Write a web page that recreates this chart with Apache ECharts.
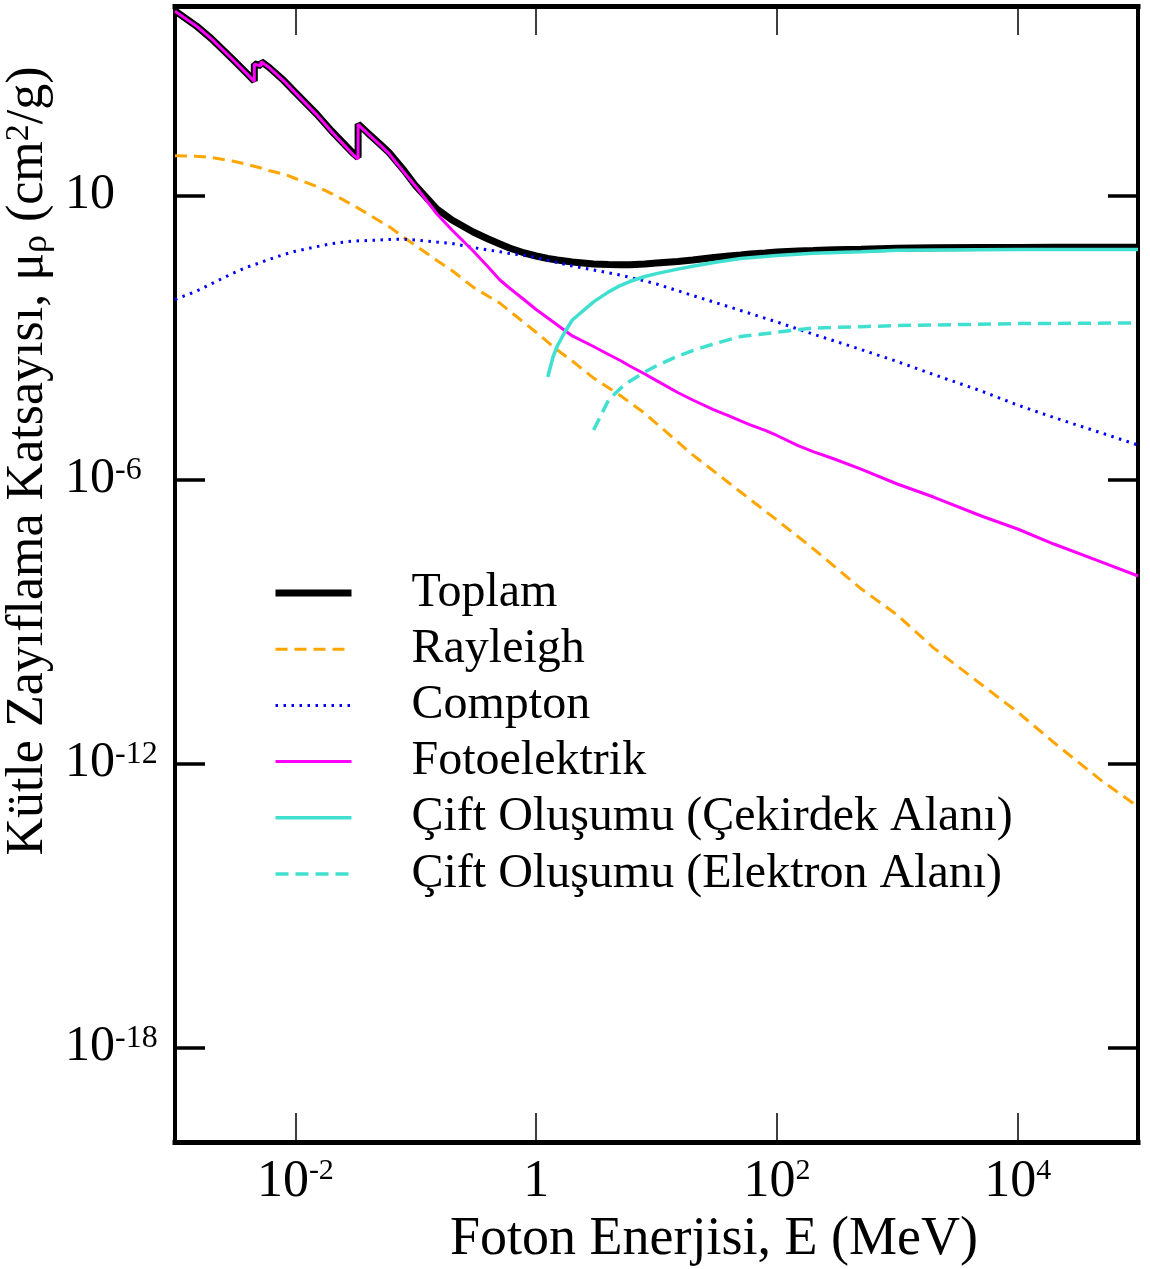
<!DOCTYPE html>
<html>
<head>
<meta charset="utf-8">
<title>Kütle Zayıflama Katsayısı</title>
<script src="https://cdn.jsdelivr.net/npm/echarts@6/dist/echarts.min.js"></script>
<style>
  html, body { margin: 0; padding: 0; background: #ffffff; }
  #chart { width: 1150px; height: 1269px; }
</style>
</head>
<body>
<div id="chart"></div>
<script>
// Photon energies in MeV, mass attenuation coefficients in cm²/g.

// Total and photoelectric share one grid; edges appear as repeated energies.
const edgeEnergy = [0.001, 0.0015, 0.002, 0.003, 0.004, 0.00456, 0.00456, 0.00519, 0.00519, 0.006,
  0.008, 0.01, 0.015, 0.02, 0.03, 0.0332, 0.0332, 0.04, 0.05, 0.06,
  0.08, 0.1, 0.15, 0.2, 0.3, 0.4, 0.5, 0.6, 0.8, 1,
  1.25, 1.5, 2, 3, 4, 5, 6, 8, 10, 15,
  20, 30, 40, 50, 60, 80, 100, 150, 200, 300,
  500, 1000, 2000, 5000, 10000, 20000, 50000, 100000];

const totalMu = [7850, 3820, 2060, 759, 366, 260, 595, 553, 672, 514,
  267, 149, 52.3, 22.9, 7.84, 6.30, 32.1, 20.7, 12.4, 8.03,
  3.35, 1.575, 0.514, 0.301, 0.168, 0.1195, 0.0937, 0.0772, 0.0605, 0.0523,
  0.0463, 0.0430, 0.0390, 0.0354, 0.0346, 0.0341, 0.0341, 0.0354, 0.0372, 0.0400,
  0.0430, 0.0486, 0.0523, 0.0549, 0.0576, 0.0605, 0.0635, 0.0667, 0.0683, 0.0707,
  0.0728, 0.0760, 0.0779, 0.0790, 0.0794, 0.0798, 0.0802, 0.0805];

const photoMu = [7800, 3790, 2040, 750, 360, 255, 590, 548, 667, 509,
  263, 146, 50.8, 22.0, 7.35, 5.85, 31.6, 20.2, 11.9, 7.6,
  3.05, 1.54, 0.403, 0.185, 0.0667, 0.0306, 0.01627, 0.01102, 0.00615, 0.00387,
  0.00256, 0.00182, 0.00107, 6.40e-4, 4.34e-4, 3.24e-4, 2.48e-4, 1.68e-4, 1.22e-4, 6.83e-5,
  4.74e-5, 2.92e-5, 2.18e-5, 1.71e-5, 1.41e-5, 1.08e-5, 8.44e-6, 5.14e-6, 3.84e-6, 2.69e-6,
  1.65e-6, 7.97e-7, 4.23e-7, 1.68e-7, 8.93e-8, 4.30e-8, 1.79e-8, 9.07e-9];

// Coherent and incoherent scattering grid.
const scatterEnergy = [0.001, 0.0015, 0.002, 0.003, 0.004, 0.005, 0.006, 0.008, 0.01, 0.015,
  0.02, 0.03, 0.04, 0.05, 0.06, 0.08, 0.1, 0.15, 0.2, 0.3,
  0.4, 0.5, 0.6, 0.8, 1, 1.5, 2, 3, 5, 8,
  10, 20, 50, 100, 200, 500, 1000, 2000, 5000, 10000,
  20000, 50000, 100000];

const rayleighMu = [6.87, 6.68, 6.30, 5.31, 4.48, 3.87, 3.35, 2.82, 2.27, 1.54,
  1.09, 0.625, 0.404, 0.287, 0.219, 0.128, 0.0863, 0.0420, 0.0258, 0.0115,
  0.00736, 0.00526, 0.00362, 0.00202, 0.00128, 5.39e-4, 3.16e-4, 1.38e-4, 5.89e-5, 2.47e-5,
  1.51e-5, 3.28e-6, 5.4e-7, 1.38e-7, 3.44e-8, 4.89e-9, 1.36e-9, 2.75e-10, 4.63e-11, 1.21e-11,
  2.75e-12, 4.27e-13, 1.22e-13];

const comptonMu = [0.0063, 0.00938, 0.0135, 0.0223, 0.0306, 0.0372, 0.0441, 0.0562, 0.0657, 0.0822,
  0.0951, 0.108, 0.111, 0.114, 0.117, 0.118, 0.114, 0.103, 0.0960, 0.0790,
  0.0700, 0.0644, 0.0590, 0.0536, 0.0486, 0.0381, 0.0321, 0.0264, 0.0207, 0.0155,
  0.0134, 0.00766, 0.00369, 0.00211, 0.00117, 5.53e-4, 3.08e-4, 1.64e-4, 7.34e-5, 3.71e-5,
  2.02e-5, 9.51e-6, 5.31e-6];

// Pair production in the nuclear field.
const pairNucEnergy = [1.25, 1.38, 1.5, 1.75, 2, 3, 4, 5, 6, 8, 10, 15, 20, 30, 50, 100, 200, 500, 1000, 10000, 100000];
const pairNucMu = [1.45e-4, 3.84e-4, 6.56e-4, 1.36e-3, 2.32e-3, 5.61e-3, 9.12e-3, 0.0124, 0.0151, 0.0193,
  0.0222, 0.0276, 0.0317, 0.0381, 0.0465, 0.0538, 0.0599, 0.0644, 0.0690, 0.0717, 0.0717];

// Pair production in the electron field.
const pairElEnergy = [3, 4, 5, 6, 8, 10, 15, 20, 30, 50, 100, 200, 500, 1000, 10000, 100000];
const pairElMu = [1.10e-5, 4.74e-5, 8.30e-5, 1.18e-4, 1.85e-4, 2.51e-4, 4.01e-4, 5.25e-4, 7.30e-4, 1.04e-3,
  1.28e-3, 1.57e-3, 1.68e-3, 1.77e-3, 1.95e-3, 2.01e-3];

const seriesNames = ['Toplam', 'Rayleigh', 'Compton', 'Fotoelektrik',
  'Çift Oluşumu (Çekirdek Alanı)', 'Çift Oluşumu (Elektron Alanı)'];

// Tick positions and their labels as [base, superscript].
const xTicks = [1e-2, 1, 1e2, 1e4];
const xTickLabels = [['10', '-2'], ['1', ''], ['10', '2'], ['10', '4']];
const yTicks = [1e-18, 1e-12, 1e-6, 1];
const yTickLabels = [['10', '-18'], ['10', '-12'], ['10', '-6'], ['10', '']];

const FONT = '"Liberation Serif", "Times New Roman", Times, serif';

function pairs(xs, ys) {
  return xs.map(function (x, i) { return [x, ys[i]]; });
}

function tickText(ticks, labels) {
  return function (value) {
    for (let i = 0; i < ticks.length; i++) {
      if (Math.abs(Math.log10(value) - Math.log10(ticks[i])) < 1e-6) {
        const t = labels[i];
        return t[1] ? '{b|' + t[0] + '}{s|' + t[1] + '}' : '{b|' + t[0] + '}';
      }
    }
    return '';
  };
}

const xBase = {
  type: 'log', logBase: 10, min: 1e-3, max: 1e5,
  axisLine: { onZero: false, lineStyle: { color: '#000', width: 5, cap: 'square' } },
  axisTick: { inside: true, length: 29, customValues: xTicks, lineStyle: { color: '#000', width: 1.5 } },
  minorTick: { show: false },
  splitLine: { show: false }
};

const yBase = {
  type: 'log', logBase: 10, min: 1e-20, max: 1e4,
  axisLine: { onZero: false, lineStyle: { color: '#000', width: 4, cap: 'square' } },
  axisTick: { inside: true, length: 30, customValues: yTicks, lineStyle: { color: '#000', width: 3.5 } },
  minorTick: { show: false },
  splitLine: { show: false }
};

function lineSeries(name, xs, ys, color, width, type) {
  return {
    name: name,
    type: 'line',
    data: pairs(xs, ys),
    symbol: 'none',
    showSymbol: false,
    silent: true,
    smooth: false,
    itemStyle: { color: color },
    lineStyle: { color: color, width: width, type: type || 'solid', cap: 'butt' },
    emphasis: { disabled: true }
  };
}

const chart = echarts.init(document.getElementById('chart'), null, { renderer: 'canvas' });

chart.setOption({
  backgroundColor: '#ffffff',
  animation: false,
  grid: { left: 175, right: 12, top: 6, bottom: 127, containLabel: false, outerBoundsMode: 'none' },
  legend: {
    orient: 'vertical',
    left: 272,
    top: 569,
    padding: 0,
    itemGap: 8.2,
    itemWidth: 76,
    itemHeight: 14,
    selectedMode: false,
    itemStyle: { opacity: 0 },
    lineStyle: { width: 'inherit' },
    textStyle: { fontFamily: FONT, fontSize: 48, lineHeight: 48, color: '#000', padding: [0, 0, 0, 55] },
    data: seriesNames
  },
  xAxis: [
    Object.assign({}, xBase, {
      position: 'bottom',
      axisLabel: {
        customValues: xTicks,
        formatter: tickText(xTicks, xTickLabels),
        margin: 14,
        color: '#000',
        rich: {
          b: { fontFamily: FONT, fontSize: 52, lineHeight: 52, color: '#000' },
          s: { fontFamily: FONT, fontSize: 30, lineHeight: 30, verticalAlign: 'top', color: '#000' }
        }
      },
      name: 'Foton Enerjisi, E (MeV)',
      nameLocation: 'middle',
      nameGap: 63,
      nameTextStyle: { fontFamily: FONT, fontSize: 54, lineHeight: 54, color: '#000', padding: [0, 0, 0, 115] }
    }),
    Object.assign({}, xBase, { position: 'top', axisLabel: { show: false } })
  ],
  yAxis: [
    Object.assign({}, yBase, {
      position: 'left',
      axisLabel: {
        customValues: yTicks,
        formatter: tickText(yTicks, yTickLabels),
        align: 'left',
        margin: 110,
        color: '#000',
        rich: {
          b: { fontFamily: FONT, fontSize: 50, lineHeight: 50, color: '#000' },
          s: { fontFamily: FONT, fontSize: 32, lineHeight: 32, verticalAlign: 'top', color: '#000' }
        }
      },
      name: 'Kütle Zayıflama Katsayısı, μ{sub|ρ} (cm{sup|2}/g)',
      nameLocation: 'middle',
      nameRotate: 90,
      nameGap: 118,
      nameTextStyle: {
        fontFamily: FONT, fontSize: 52, lineHeight: 52, color: '#000',
        padding: [0, 0, 0, 226],
        rich: {
          sub: { fontFamily: FONT, fontSize: 36, lineHeight: 26, verticalAlign: 'bottom', color: '#000' },
          sup: { fontFamily: FONT, fontSize: 34, lineHeight: 34, verticalAlign: 'top', color: '#000' }
        }
      }
    }),
    Object.assign({}, yBase, { position: 'right', axisLabel: { show: false } })
  ],
  series: [
    lineSeries(seriesNames[0], edgeEnergy, totalMu, '#000000', 7),
    lineSeries(seriesNames[1], scatterEnergy, rayleighMu, '#FFA500', 3, [12, 7]),
    lineSeries(seriesNames[2], scatterEnergy, comptonMu, '#0000FF', 3, [2.5, 5.5]),
    lineSeries(seriesNames[3], edgeEnergy, photoMu, '#FF00FF', 3),
    lineSeries(seriesNames[4], pairNucEnergy, pairNucMu, '#40E0D0', 3.5),
    lineSeries(seriesNames[5], pairElEnergy, pairElMu, '#40E0D0', 3.5, [13, 7])
  ]
});
</script>
</body>
</html>
